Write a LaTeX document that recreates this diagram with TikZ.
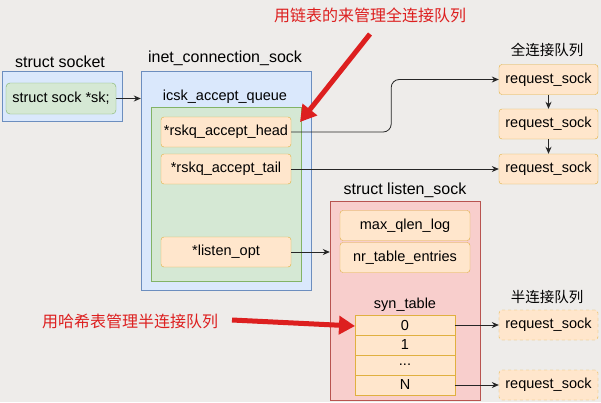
\documentclass[tikz,border=0pt]{standalone}
\usepackage{fontspec}
\setmainfont{Liberation Sans}
\newfontfamily\cjk{Noto Sans CJK SC}
\usetikzlibrary{arrows.meta,calc}

\definecolor{bgcol}{HTML}{EEECEA}
\definecolor{bluefill}{HTML}{DAE8FC}
\definecolor{blueline}{HTML}{6C8EBF}
\definecolor{greenfill}{HTML}{D5E8D4}
\definecolor{greenline}{HTML}{82B366}
\definecolor{orangefill}{HTML}{FFE6CC}
\definecolor{orangeline}{HTML}{E0B040}
\definecolor{pinkfill}{HTML}{F8CECC}
\definecolor{pinkline}{HTML}{B85450}
\definecolor{notered}{HTML}{DD1F1F}

\tikzset{
  boxtext/.style={font=\fontsize{14.5}{16}\selectfont},
  tag/.style={font=\fontsize{16}{18}\selectfont},
  cntag/.style={font=\cjk\fontsize{14.5}{16}\selectfont},
  notetext/.style={notered, font=\cjk\fontsize{16}{18}\selectfont},
  bluebox/.style={draw=blueline, fill=bluefill, inner sep=0pt},
  greenbox/.style={draw=greenline, fill=greenfill, inner sep=0pt},
  pinkbox/.style={draw=pinkline, fill=pinkfill, inner sep=0pt},
  field/.style={draw=orangeline, fill=orangefill, rounded corners=3pt, boxtext,
    minimum width=130pt, minimum height=30pt, inner sep=0pt},
  cell/.style={draw=orangeline, fill=orangefill, boxtext,
    minimum width=100pt, minimum height=20pt, inner sep=0pt},
  reqsock/.style={draw=orangeline, fill=orangefill, rounded corners=3pt, boxtext,
    minimum width=99pt, minimum height=30pt, inner sep=0pt},
  halfsock/.style={reqsock, dashed},
  link/.style={-{Stealth[length=7pt,width=6pt]}, draw=black!85, line width=0.8pt},
  note/.style={notered, line width=5pt, -{Triangle[length=16pt,width=18pt]}}
}

\begin{document}
\begin{tikzpicture}[x=1pt,y=-1pt]

% Canvas
\fill[bgcol] (0,0) rectangle (601,402);
\useasboundingbox (0,0) rectangle (601,402);

% struct socket
\node[tag] at (60,62) {struct socket};
\node[bluebox, minimum width=120pt, minimum height=50pt] (socket) at (62,96) {};
\node[greenbox, rounded corners=4pt, boxtext, minimum width=110pt, minimum height=31pt] (sk) at (61,98.5) {struct sock *sk;};

% inet_connection_sock
\node[tag] at (225,58) {inet\_connection\_sock};
\node[bluebox, minimum width=170pt, minimum height=219pt] (inet) at (226,180.5) {};
\node[boxtext] at (225,97) {icsk\_accept\_queue};
\node[greenbox, minimum width=150pt, minimum height=174pt] (queue) at (226,194) {};
\node[field] (head) at (226,132) {*rskq\_accept\_head};
\node[field] (tail) at (226,169) {*rskq\_accept\_tail};
\node[field] (lopt) at (226,252) {*listen\_opt};

% Full connection queue
\node[cntag] at (547,50) {全连接队列};
\node[reqsock] (req1) at (548.5,79.5) {request\_sock};
\node[reqsock] (req2) at (548.5,124) {request\_sock};
\node[reqsock] (req3) at (548.5,169) {request\_sock};

% struct listen_sock
\node[tag] at (405,190) {struct listen\_sock};
\node[pinkbox, minimum width=150pt, minimum height=199pt] (lsock) at (405,300.5) {};
\node[field] (maxq) at (405,225.5) {max\_qlen\_log};
\node[field] (nrtab) at (405,257.5) {nr\_table\_entries};
\node[boxtext] at (405,305) {syn\_table};
\node[cell] (cell0) at (405,325) {0};
\node[cell] (cell1) at (405,345) {1};
\node[cell] (celld) at (405,365) {...};
\node[cell] (celln) at (405,385) {N};

% Half connection queue
\node[cntag] at (547,297) {半连接队列};
\node[halfsock] (hreq1) at (548.5,325) {request\_sock};
\node[halfsock] (hreq2) at (548.5,385) {request\_sock};

% Connectors
\draw[link] (sk.east) -- (sk.east -| inet.west);
\draw[link, rounded corners=8pt] (head.east) -- ++(100,0) |- (req1.west);
\draw[link] (tail.east) -- (req3.west);
\draw[link] (req1.south) -- (req2.north);
\draw[link] (req2.south) -- (req3.north);
\draw[link] (lopt.east) -- (lopt.east -| lsock.west);
\draw[link] (cell0.east) -- (hreq1.west);
\draw[link] (celln.east) -- (hreq2.west);

% Red notes
\node[notetext] (topnote) at (370,15) {用链表的来管理全连接队列};
\node[notetext] (hashnote) at (130,321) {用哈希表管理半连接队列};
\coordinate (topfrom) at (370,34);
\coordinate (topto) at (300,122);
\coordinate (hashfrom) at (232,320);
\coordinate (hashto) at (355,326);
\draw[note] (topfrom) -- (topto);
\draw[note] (hashfrom) -- (hashto);

\end{tikzpicture}
\end{document}
